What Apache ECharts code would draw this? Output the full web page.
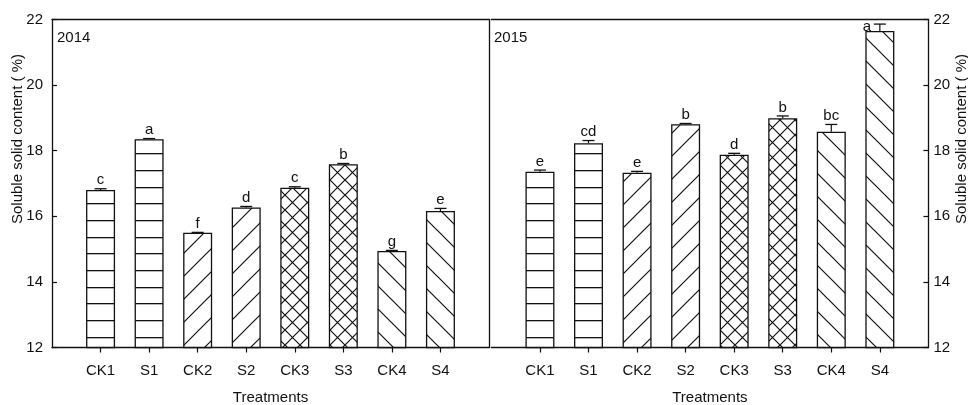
<!DOCTYPE html>
<html>
<head>
<meta charset="utf-8">
<script src="https://cdn.jsdelivr.net/npm/echarts@6/dist/echarts.min.js"></script>
<style>
  html, body { margin: 0; padding: 0; background: #fff; }
  #chart { width: 968px; height: 405px; }
</style>
</head>
<body>
<div id="chart"></div>
<script>
// Treatments and soluble solid content (%) for the two seasons
const treatments = ['CK1', 'S1', 'CK2', 'S2', 'CK3', 'S3', 'CK4', 'S4'];
const yearLabels = ['2014', '2015'];

const values2014 = [16.80, 18.35, 15.50, 16.27, 16.87, 17.59, 14.94, 16.16];
const errors2014 = [0.04, 0.02, 0.01, 0.03, 0.03, 0.02, 0.02, 0.08];
const letters2014 = ['c', 'a', 'f', 'd', 'c', 'b', 'g', 'e'];

const values2015 = [17.36, 18.23, 17.33, 18.81, 17.88, 18.99, 18.58, 21.65];
const errors2015 = [0.05, 0.08, 0.04, 0.02, 0.04, 0.07, 0.22, 0.21];
const letters2015 = ['e', 'cd', 'e', 'b', 'd', 'b', 'bc', 'a'];

// fill style of each treatment pair
const fillKinds = ['hline', 'hline', 'slash', 'slash', 'cross', 'cross', 'backslash', 'backslash'];

const yTicks = { min: 12, max: 22, interval: 2 };

const FONT = "'Liberation Sans', Arial, sans-serif";
const INK = '#111';

function makePattern(kind) {
  const c = document.createElement('canvas');
  let w, h;
  if (kind === 'hline') { w = 10; h = 50; }
  else if (kind === 'cross') { w = h = 15; }
  else { w = h = 23; }
  c.width = w; c.height = h;
  const g = c.getContext('2d');
  g.fillStyle = '#fff';
  g.fillRect(0, 0, w, h);
  g.strokeStyle = INK;
  g.fillStyle = INK;
  g.lineWidth = 1.2;
  if (kind === 'hline') {
    [3.4, 20.0, 36.7].forEach(function (y) { g.fillRect(0, Math.round(y), w, 1.3); });
    return { image: c, repeat: 'repeat' };
  }
  const s = w;
  g.beginPath();
  if (kind === 'slash' || kind === 'cross') {
    for (let k = 0; k <= 2; k++) {
      g.moveTo(-1, k * s + 1);
      g.lineTo(s + 1, k * s - s - 1);
    }
  }
  if (kind === 'backslash' || kind === 'cross') {
    for (let k = -1; k <= 1; k++) {
      g.moveTo(-1, -1 - k * s);
      g.lineTo(s + 1, s + 1 - k * s);
    }
  }
  g.stroke();
  return { image: c, repeat: 'repeat' };
}

const patterns = {};
['hline', 'slash', 'cross', 'backslash'].forEach(function (k) { patterns[k] = makePattern(k); });

// padded category axis so the treatments sit at positions 1..8 of 0..9
const axisCats = [''].concat(treatments, ['']);

function barData(vals) {
  return vals.map(function (v, i) {
    return {
      value: [i + 1, v],
      itemStyle: { color: patterns[fillKinds[i]] }
    };
  });
}

function errData(vals, errs) {
  return vals.map(function (v, i) { return [i + 1, v, errs[i]]; });
}

function errRenderer(letters) {
  return function (params, api) {
    const x = api.value(0), v = api.value(1), e = api.value(2);
    const p0 = api.coord([x, v]);
    const p1 = api.coord([x, v + e]);
    const top = api.coord([x, yTicks.max]);
    const children = [
      { type: 'line', shape: { x1: p0[0], y1: p0[1], x2: p1[0], y2: p1[1] },
        style: { stroke: INK, lineWidth: 1.2 } },
      { type: 'line', shape: { x1: p1[0] - 6, y1: p1[1], x2: p1[0] + 6, y2: p1[1] },
        style: { stroke: INK, lineWidth: 1.3 } }
    ];
    const txt = letters[params.dataIndex];
    const nearTop = (p1[1] - top[1]) < 18;
    children.push({
      type: 'text',
      style: {
        text: txt,
        x: nearTop ? p1[0] - 13 : p1[0],
        y: nearTop ? p1[1] + 3 : p1[1] - 1,
        align: 'center',
        verticalAlign: nearTop ? 'middle' : 'bottom',
        font: '15px ' + FONT,
        fill: INK
      }
    });
    return { type: 'group', children: children };
  };
}

const axisLineStyle = { lineStyle: { color: INK, width: 1.3 } };

function catAxis(gridIndex) {
  return {
    type: 'category',
    gridIndex: gridIndex,
    data: axisCats,
    boundaryGap: false,
    name: 'Treatments',
    nameLocation: 'middle',
    nameGap: 43,
    nameTextStyle: { fontFamily: FONT, fontSize: 15, color: INK },
    axisLine: axisLineStyle,
    axisTick: {
      show: true, inside: false, length: 5,
      interval: function (idx) { return idx > 0 && idx < axisCats.length - 1; },
      lineStyle: { color: INK, width: 1.2 }
    },
    axisLabel: { interval: 0, margin: 16, fontFamily: FONT, fontSize: 15, color: INK },
    splitLine: { show: false }
  };
}

function frameXAxis(gridIndex) {
  return {
    type: 'category', gridIndex: gridIndex, position: 'top', data: axisCats, boundaryGap: false,
    axisLine: axisLineStyle, axisTick: { show: false }, axisLabel: { show: false }, splitLine: { show: false }
  };
}

function valAxis(gridIndex, position, labels) {
  return {
    type: 'value',
    gridIndex: gridIndex,
    position: position,
    min: yTicks.min, max: yTicks.max, interval: yTicks.interval,
    axisLine: { show: true, lineStyle: { color: INK, width: 1.3 } },
    axisTick: { show: labels, inside: true, length: 5, lineStyle: { color: INK, width: 1.2 } },
    axisLabel: { show: labels, margin: position === 'left' ? 9 : 5, fontFamily: FONT, fontSize: 15, color: INK },
    splitLine: { show: false }
  };
}

const chart = echarts.init(document.getElementById('chart'), null, { renderer: 'canvas' });

const option = {
  animation: false,
  backgroundColor: '#fff',
  grid: [
    { left: 52, top: 19.5, width: 437, height: 328, containLabel: false, outerBoundsMode: 'none' },
    { left: 491.4, top: 19.5, width: 437, height: 328, containLabel: false, outerBoundsMode: 'none' }
  ],
  xAxis: [catAxis(0), catAxis(1), frameXAxis(0), frameXAxis(1)],
  yAxis: [
    valAxis(0, 'left', true),
    valAxis(1, 'right', true),
    valAxis(0, 'right', false)
  ],
  graphic: [
    { type: 'text', left: 57, top: 30, style: { text: yearLabels[0], font: '15px ' + FONT, fill: INK } },
    { type: 'text', left: 494, top: 30, style: { text: yearLabels[1], font: '15px ' + FONT, fill: INK } },
    { type: 'text', x: 18, y: 139, rotation: Math.PI / 2,
      style: { text: 'Soluble solid content ( %)', font: '15px ' + FONT, fill: INK, align: 'center', verticalAlign: 'middle' } },
    { type: 'text', x: 962, y: 139, rotation: Math.PI / 2,
      style: { text: 'Soluble solid content ( %)', font: '15px ' + FONT, fill: INK, align: 'center', verticalAlign: 'middle' } }
  ],
  series: [
    {
      type: 'bar', xAxisIndex: 0, yAxisIndex: 0, barWidth: 29,
      itemStyle: { borderColor: INK, borderWidth: 1.3 },
      data: barData(values2014)
    },
    {
      type: 'bar', xAxisIndex: 1, yAxisIndex: 1, barWidth: 29,
      itemStyle: { borderColor: INK, borderWidth: 1.3 },
      data: barData(values2015)
    },
    {
      type: 'custom', xAxisIndex: 0, yAxisIndex: 0, z: 5,
      encode: { x: 0, y: 1 },
      renderItem: errRenderer(letters2014),
      data: errData(values2014, errors2014)
    },
    {
      type: 'custom', xAxisIndex: 1, yAxisIndex: 1, z: 5,
      encode: { x: 0, y: 1 },
      renderItem: errRenderer(letters2015),
      data: errData(values2015, errors2015)
    }
  ]
};

chart.setOption(option);
</script>
</body>
</html>
